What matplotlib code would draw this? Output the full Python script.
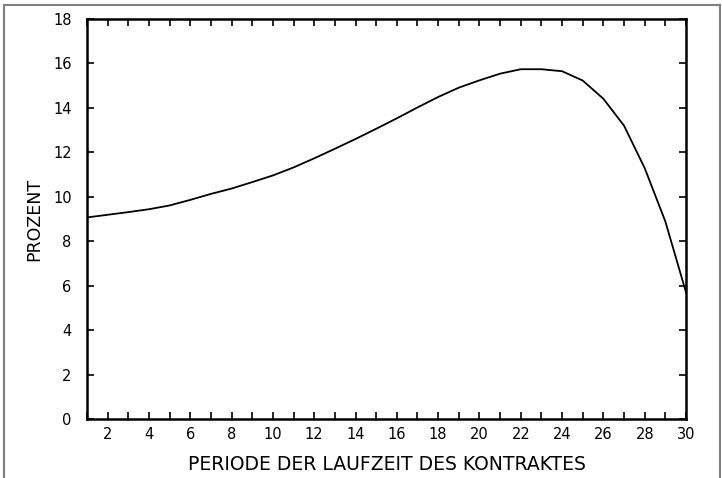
#!/usr/bin/env python3
"""
Recreate the PROZENT vs. Periode der Laufzeit des Kontraktes line chart.
"""
import numpy as np
import matplotlib
matplotlib.use('Agg')
import matplotlib.pyplot as plt
from matplotlib.lines import Line2D

# values
periode = [1, 2, 3, 4, 5, 6, 7, 8, 9, 10, 11, 12, 13, 14, 15,
           16, 17, 18, 19, 20, 21, 22, 23, 24, 25, 26, 27, 28, 29, 30]
prozent = [9.07, 9.19, 9.31, 9.44, 9.61, 9.86, 10.13, 10.37, 10.66, 10.96,
           11.32, 11.73, 12.16, 12.60, 13.06, 13.53, 14.02, 14.49, 14.91, 15.24,
           15.54, 15.74, 15.74, 15.65, 15.23, 14.41, 13.20, 11.29, 8.89, 5.70]
x_ticklabels = [2, 4, 6, 8, 10, 12, 14, 16, 18, 20, 22, 24, 26, 28, 30]
y_ticklabels = [0, 2, 4, 6, 8, 10, 12, 14, 16, 18]

W, H, dpi = 722, 478, 100
fig = plt.figure(figsize=(W / dpi, H / dpi), dpi=dpi)
plt.rcParams['font.family'] = ['DejaVu Sans']

# axes box in pixel coords: left 87, right 686, top 19, bottom 419
left, right, top, bottom = 87, 686, 19, 419
ax = fig.add_axes([left / W, 1 - bottom / H, (right - left) / W, (bottom - top) / H])

ax.plot(periode, prozent, color='black', linewidth=1.3)

ax.set_xlim(1, 30)
ax.set_ylim(0, 18)
ax.set_xticks(x_ticklabels)
ax.set_xticks(periode, minor=True)
ax.set_yticks(y_ticklabels)
ax.tick_params(axis='both', which='both', direction='in', top=True, right=True,
               width=1.2, colors='black', labelsize=10.5)
ax.tick_params(axis='both', which='major', length=5, pad=6)
ax.tick_params(axis='x', which='minor', length=5)
ax.tick_params(axis='y', which='minor', length=0)
ax.set_xticklabels([str(v) for v in x_ticklabels])
ax.set_yticklabels([str(v) for v in y_ticklabels])
ax.tick_params(axis='y', pad=11)

for sp in ax.spines.values():
    sp.set_linewidth(1.8)
    sp.set_color('black')

ax.set_xlabel('PERIODE DER LAUFZEIT DES KONTRAKTES', fontsize=13.5, labelpad=9)
ax.set_ylabel('PROZENT', fontsize=12.5, labelpad=7)

# grey scanned frame around the figure
def px(x, y):
    return x / W, 1 - y / H

frame = [((4, 5), (720, 5)), ((4, 5), (4, 478)), ((720, 5), (720, 478))]
for (x0, y0), (x1, y1) in frame:
    a, b = px(x0, y0)
    c, d = px(x1, y1)
    fig.add_artist(Line2D([a, c], [b, d], transform=fig.transFigure,
                          color='#808080', linewidth=1.5))

fig.savefig('out.png', dpi=dpi, facecolor='white')
